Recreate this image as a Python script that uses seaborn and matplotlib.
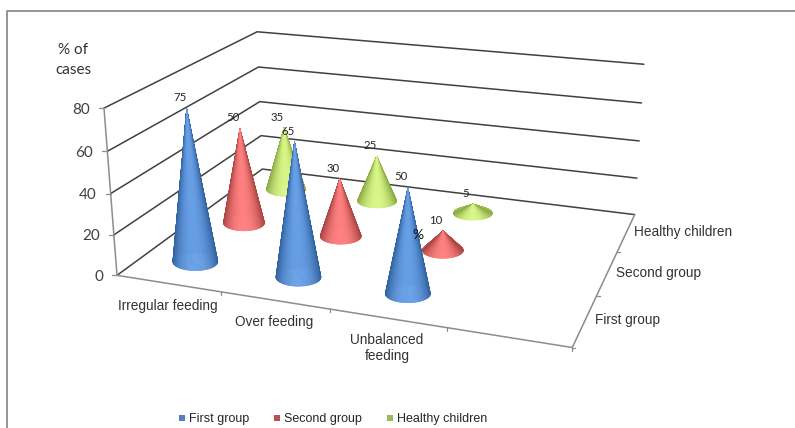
import numpy as np
import pandas as pd
import matplotlib
matplotlib.use("Agg")
import matplotlib.pyplot as plt
import seaborn as sns
from matplotlib.collections import PolyCollection

sns.set_theme(style="white")
plt.rcParams['font.family'] = ['Lato', 'DejaVu Sans']

# chart data
categories = ['Irregular feeding', 'Over feeding', 'Unbalanced\nfeeding']
groups = ['First group', 'Second group', 'Healthy children']
first_group = [75, 65, 50]
second_group = [50, 30, 10]
healthy_children = [35, 25, 5]
y_ticks = [0, 20, 40, 60, 80]

palette = {'First group': '#4f81bd', 'Second group': '#c0504d', 'Healthy children': '#9bbb59'}
# edge / centre colours of the cone shading
shades = {
    'First group': ('#2f5f9c', '#68a0e6'),
    'Second group': ('#a64240', '#ff8080'),
    'Healthy children': ('#86a840', '#d8f688'),
}
base_w = [22.5, 20.5, 19.5]
base_h = [9.0, 8.0, 7.0]

n_slots = 4  # excel leaves a blank 4th category

# box corners as seen on screen, used to calibrate the perspective
calib = [
    ((0, 0, 0), (118, 275)), ((4, 0, 0), (572, 347)), ((0, 0, 3), (262, 169)), ((4, 0, 3), (635, 214)),
    ((0, 80, 0), (104, 107)), ((0, 80, 3), (257, 32)), ((4, 80, 3), (644, 65)),
    ((1, 0, 0), (220, 293)), ((3, 0, 0), (447, 329)),
    ((4, 0, 1), (597, 295)), ((4, 0, 2), (617, 252)),
]
rows = []
for (x, y, z), (u, v) in calib:
    X = [x, y / 20, z, 1]
    rows.append(X + [0, 0, 0, 0] + [-u * c for c in X])
    rows.append([0, 0, 0, 0] + X + [-v * c for c in X])
P = np.linalg.svd(np.array(rows, dtype=float))[2][-1].reshape(3, 4)


def project(x, y, z):
    p = P @ np.array([x, y / 20, z, 1.0])
    return p[0] / p[2], p[1] / p[2]


df = pd.DataFrame({
    'category': categories * 3,
    'group': np.repeat(groups, 3),
    'value': first_group + second_group + healthy_children,
})
df['slot'] = df['category'].map({c: i for i, c in enumerate(categories)})
df['row'] = df['group'].map({g: i for i, g in enumerate(groups)})
apex = [project(s + 0.5, v, r + 0.5) for s, v, r in zip(df['slot'], df['value'], df['row'])]
df['px'] = [a[0] for a in apex]
df['py'] = [a[1] for a in apex]

fig, ax = plt.subplots(figsize=(7.95, 4.28), dpi=100)
fig.subplots_adjust(0, 0, 1, 1)
ax.set_xlim(0, 795)
ax.set_ylim(428, 0)

sns.scatterplot(data=df, x='px', y='py', hue='group', hue_order=groups, palette=palette,
                marker='s', s=1, linewidth=0, ax=ax)

# walls and floor
for v in y_ticks:
    a, b, c = project(0, v, 0), project(0, v, 3), project(4, v, 3)
    ax.plot([a[0], b[0], c[0]], [a[1], b[1], c[1]], color='#404040', lw=1.1, zorder=1)
    t = project(0, v, 0)
    ax.plot([t[0] - 5, t[0]], [t[1], t[1]], color='#8c8c8c', lw=0.9, zorder=1)
    ax.text(t[0] - 14, t[1] + 1.5, str(v), ha='right', va='center', fontsize=11, color='#404040')
edge = [project(0, 0, 0), project(4, 0, 0), project(4, 0, 3)]
ax.plot([p[0] for p in edge], [p[1] for p in edge], color='#8c8c8c', lw=1.1, zorder=1)
a, b = project(0, 0, 0), project(0, 80, 0)
ax.plot([a[0], b[0]], [a[1], b[1]], color='#8c8c8c', lw=1.1, zorder=1)
for s in range(1, n_slots + 1):
    t = project(s, 0, 0)
    ax.plot([t[0], t[0]], [t[1], t[1] + 3], color='#8c8c8c', lw=0.9, zorder=1)
for r in range(0, 3):
    t = project(4, 0, r)
    ax.plot([t[0], t[0] + 3], [t[1], t[1]], color='#8c8c8c', lw=0.9, zorder=1)


def to_rgb(c):
    return np.array(matplotlib.colors.to_rgb(c))


# cones, back row first
for r in [2, 1, 0]:
    sub = df[df['row'] == r]
    dark, light = [to_rgb(c) for c in shades[groups[r]]]
    for _, d in sub.sort_values('slot').iterrows():
        bx, by = project(d['slot'] + 0.5, 0, r + 0.5)
        ang = np.linspace(-np.pi, np.pi, 145)
        xs = bx + base_w[r] * np.sin(ang)
        ys = by + base_h[r] * np.cos(ang)
        mid = (ang[:-1] + ang[1:]) / 2
        order = np.argsort(np.cos(mid))
        polys, cols = [], []
        for i in order:
            polys.append([(d['px'], d['py']), (xs[i], ys[i]), (xs[i + 1], ys[i + 1])])
            s = max(np.cos(mid[i]), 0) ** 1.5
            if np.cos(mid[i]) < 0:
                s = 0.25
            cols.append(dark + (light - dark) * s)
        ax.add_collection(PolyCollection(polys, facecolors=cols, edgecolors=cols, linewidths=0.4,
                                         zorder=3 + (2 - r)))

# value labels
for _, d in df.iterrows():
    ax.annotate(str(d['value']), (d['px'], d['py']), xytext=(-7, 11), textcoords='offset pixels',
                ha='center', va='center', fontsize=8.2, color='#262626', zorder=10)

# axis text
cat_pos = [(168, 306), (274, 322), (387, 348)]
for label, (x, y) in zip(categories, cat_pos):
    ax.text(x, y, label, ha='center', va='center', fontsize=9.8, family='Liberation Sans',
            color='#333333', linespacing=1.15)
row_pos = [(595, 320), (616, 273), (634, 232)]
for label, (x, y) in zip(groups, row_pos):
    ax.text(x, y, label, ha='left', va='center', fontsize=9.8, family='Liberation Sans', color='#333333')
ax.text(73, 60, '% of\ncases', ha='center', va='center', fontsize=11, color='#333333', linespacing=1.55)
ax.text(418, 235, '%', ha='center', va='center', fontsize=10, color='#111111', zorder=10)

ax.set_xlabel('')
ax.set_ylabel('')
ax.set_xticks([])
ax.set_yticks([])
for spine in ax.spines.values():
    spine.set_visible(False)

# chart area border
ax.plot([7, 7, 795], [428, 11, 11], color='#8c8c8c', lw=1.3, zorder=1)

sns.move_legend(ax, 'center', bbox_to_anchor=(333 / 795, 1 - 419 / 428), ncol=3, frameon=False, title=None,
                markerscale=5, columnspacing=2.0, handlelength=0.5, handletextpad=0.3,
                prop={'family': 'Liberation Sans', 'size': 9})

fig.savefig('out.png', dpi=100)
